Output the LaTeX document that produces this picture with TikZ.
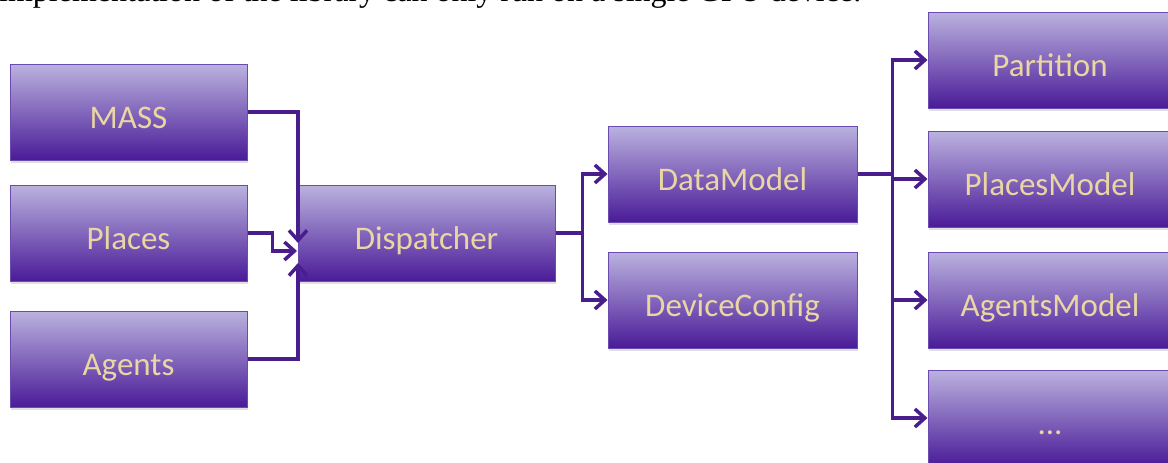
\documentclass[tikz,border=0pt]{standalone}
\usepackage{fontspec}
\setmainfont{Carlito}
\newfontfamily\bodyserif{Liberation Serif}
\usetikzlibrary{arrows.meta,shadows}

\definecolor{boxtop}{HTML}{BBB2DF}
\definecolor{boxmid}{HTML}{8A6DC6}
\definecolor{boxbot}{HTML}{4A1B98}
\definecolor{boxrim}{HTML}{6B4BB0}
\definecolor{wire}{HTML}{4A1D8C}
\definecolor{labeltan}{HTML}{E9D6A2}

\tikzset{
  module/.style={
    rectangle, draw=boxrim, line width=1pt,
    top color=boxtop, middle color=boxmid, bottom color=boxbot,
    drop shadow={opacity=0.25, shadow xshift=1pt, shadow yshift=-2.5pt},
    minimum height=96pt, inner sep=0pt,
    text height=32pt, text depth=0pt,
    font=\fontsize{33}{37}\selectfont, text=labeltan
  },
  link/.style={draw=wire, line width=3.5pt, line join=miter},
  arr/.style={link, -{Straight Barb[length=10pt,width=18pt]}}
}

\begin{document}
\begin{tikzpicture}[x=1pt,y=-1pt]
  \useasboundingbox (0,0) rectangle (1168,463);

  % running text of the page, cut by the top edge
  \node[anchor=base west, inner sep=0pt, font=\bodyserif\fontsize{32}{36}\selectfont]
    (caption) at (-1,1.5) {implementation of the library can only run on a single GPU device.};

  % input modules
  \node[module, minimum width=237pt] (MASS)   at (128.5,112) {MASS};
  \node[module, minimum width=237pt] (Places) at (128.5,233) {Places};
  \node[module, minimum width=237pt] (Agents) at (128.5,359) {Agents};

  % dispatcher and its two targets
  \node[module, minimum width=257pt] (Dispatcher)   at (426.5,233) {Dispatcher};
  \node[module, minimum width=249pt] (DataModel)    at (732.5,174) {DataModel};
  \node[module, minimum width=249pt] (DeviceConfig) at (732.5,300) {DeviceConfig};

  % data model parts
  \node[module, minimum width=244pt] (Partition)   at (1050,60)  {Partition};
  \node[module, minimum width=244pt] (PlacesModel) at (1050,179) {PlacesModel};
  \node[module, minimum width=244pt] (AgentsModel) at (1050,300) {AgentsModel};
  \node[module, minimum width=244pt] (More)        at (1050,418) {...};

  % entry points on the dispatcher's left side
  \coordinate (inM) at (298,243);
  \coordinate (inP) at (297,251);
  \coordinate (inA) at (298,263);

  \draw[arr] (MASS.east) -| (inM);
  \draw[arr] (Places.east) -- ++(25,0) |- (inP);
  \draw[arr] (Agents.east) -| (inA);

  \draw[arr] (Dispatcher.east) -- ++(27,0) |- (DataModel.west);
  \draw[arr] (Dispatcher.east) -- ++(27,0) |- (DeviceConfig.west);

  \draw[arr] (DataModel.east) -- ++(35,0) |- (Partition.west);
  \draw[arr] (DataModel.east) -- ++(35,0) |- (PlacesModel.west);
  \draw[arr] (DataModel.east) -- ++(35,0) |- (AgentsModel.west);
  \draw[arr] (DataModel.east) -- ++(35,0) |- (More.west);
\end{tikzpicture}
\end{document}
